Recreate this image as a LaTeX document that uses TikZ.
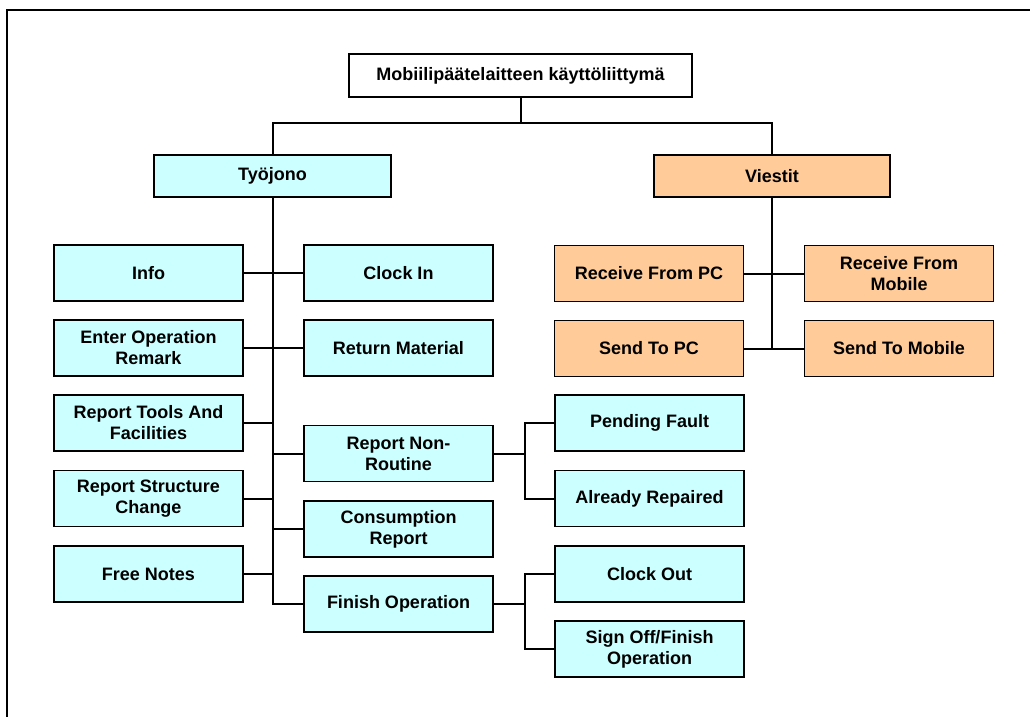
\documentclass[tikz,border=0pt]{standalone}
\usepackage{fontspec}
\setmainfont{Liberation Sans}
\begin{document}
\begin{tikzpicture}[x=1pt,y=-1pt,
  lbl/.style={font=\bfseries\fontsize{18}{21}\selectfont, align=center, inner sep=0pt},
  box/.style={lbl, draw=black, line width=1.8pt, minimum width=189pt, minimum height=56pt},
  cbox/.style={box, fill=cyanfill},
  obox/.style={box, fill=orangefill},
  link/.style={draw=black, line width=2pt}]
\definecolor{cyanfill}{HTML}{CCFFFF}
\definecolor{orangefill}{HTML}{FFCC99}
\useasboundingbox (0,0) rectangle (1030,716);
% outer frame, only its top and left sides fall inside the page
\begin{scope}
  \clip (0,0) rectangle (1030,716);
  \draw[line width=2.8pt] (7,760) -- (7,10) -- (1060,10);
\end{scope}

% root and the two main branches
\node[box, fill=white, minimum width=343pt, minimum height=43pt] (root) at (520.5,75.5) {Mobiilipäätelaitteen käyttöliittymä};
\node[cbox, minimum width=237pt, minimum height=42pt] (tyo) at (272.5,176) {Työjono};
\node[obox, minimum width=236pt, minimum height=42pt] (vie) at (772,176) {Viestit};

% Työjono: left column
\node[cbox] (info)   at (148.5,273)   {Info};
\node[cbox] (enter)  at (148.5,348)   {Enter Operation\\Remark};
\node[cbox] (tools)  at (148.5,423)   {Report Tools And\\Facilities};
\node[cbox] (struct) at (148.5,498.5) {Report Structure\\Change};
\node[cbox] (notes)  at (148.5,574)   {Free Notes};

% Työjono: middle column
\node[cbox] (clockin) at (398.5,273)   {Clock In};
\node[cbox] (retmat)  at (398.5,348)   {Return Material};
\node[cbox] (nonrout) at (398.5,453.5) {Report Non-\\Routine};
\node[cbox] (consum)  at (398.5,529)   {Consumption\\Report};
\node[cbox] (finop)   at (398.5,604)   {Finish Operation};

% Työjono: third level
\node[cbox] (pend)    at (649.5,423)   {Pending Fault};
\node[cbox] (repair)  at (649.5,498.5) {Already Repaired};
\node[cbox] (clkout)  at (649.5,574)   {Clock Out};
\node[cbox] (signoff) at (649.5,649)   {Sign Off/Finish\\Operation};

% Viestit children
\node[obox] (rpc)  at (649,273.5) {Receive From PC};
\node[obox] (rmob) at (899,273.5) {Receive From\\Mobile};
\node[obox] (spc)  at (649,348.5) {Send To PC};
\node[obox] (smob) at (899,348.5) {Send To Mobile};

% junction points
\coordinate (bar) at (0,123);
\coordinate (jnr) at (525,453.5);
\coordinate (jfo) at (525,604);

% root to branches
\draw[link] (root.south) -- (root.south |- bar) -| (tyo.north);
\draw[link] (root.south |- bar) -| (vie.north);

% Työjono trunk and its children
\draw[link] (tyo.south) |- (finop.west);
\draw[link] (info.east) -- (clockin.west);
\draw[link] (enter.east) -- (retmat.west);
\draw[link] (tools.east) -- (tools.east -| tyo.south);
\draw[link] (struct.east) -- (struct.east -| tyo.south);
\draw[link] (notes.east) -- (notes.east -| tyo.south);
\draw[link] (nonrout.west -| tyo.south) -- (nonrout.west);
\draw[link] (consum.west -| tyo.south) -- (consum.west);

% third level
\draw[link] (nonrout.east) -- (jnr);
\draw[link] (pend.west) -| (jnr);
\draw[link] (repair.west) -| (jnr);
\draw[link] (finop.east) -- (jfo);
\draw[link] (clkout.west) -| (jfo);
\draw[link] (signoff.west) -| (jfo);

% Viestit trunk and its children
\draw[link] (vie.south) -- (vie.south |- spc.east);
\draw[link] (rpc.east) -- (rmob.west);
\draw[link] (spc.east) -- (smob.west);
\end{tikzpicture}
\end{document}
